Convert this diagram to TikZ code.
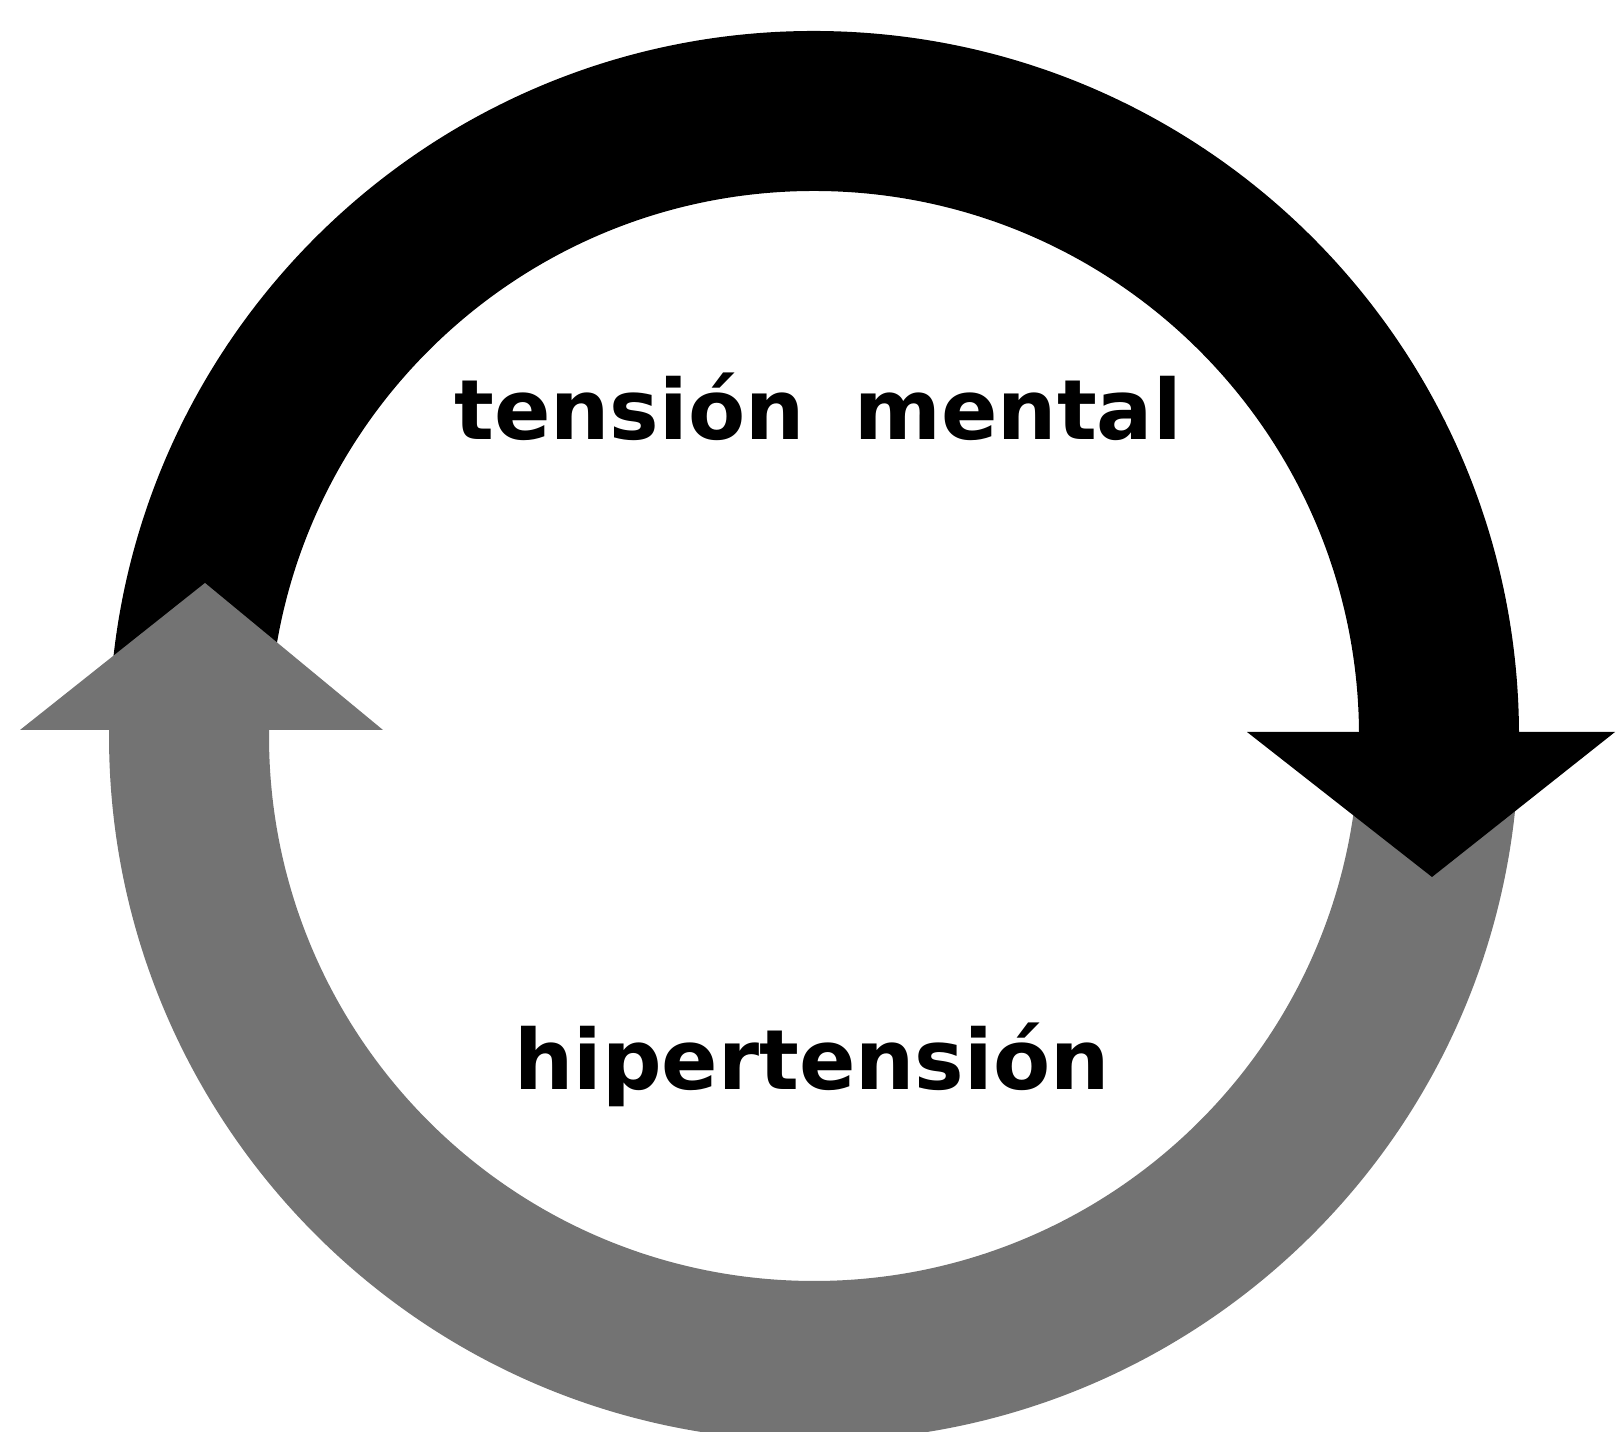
\documentclass[tikz,border=0pt]{standalone}
\usepackage{fontspec}
\setmainfont{DejaVu Sans}
\usetikzlibrary{calc}

\begin{document}
\begin{tikzpicture}[x=0.02cm,y=0.02cm]

	\tikzset{
		blackband/.style={fill=black, draw=none},
		grayband/.style={fill=black!55, draw=none},
		cyclelabel/.style={anchor=base, inner sep=0pt, font=\fontsize{47.4}{56}\selectfont\bfseries},
	}
	\useasboundingbox (0,0) rectangle (1618,1432);
	\clip (0,0) rectangle (1618,1432);

	\coordinate (c) at (814,696);

	% upper band, black
	\fill[blackband] ($(c)+(178:705)$) arc[start angle=178, end angle=0, radius=705]
		-- ($(c)+(0:545)$) arc[start angle=0, end angle=178, radius=545] -- cycle;

	% lower band, halftone gray
	\fill[grayband] ($(c)+(-3:705)$) arc[start angle=-3, end angle=-181.5, radius=705]
		-- ($(c)+(178.5:545)$) arc[start angle=178.5, end angle=357, radius=545] -- cycle;

	% arrowheads
	\coordinate (tipl) at (205,849);
	\coordinate (tipr) at (1432,555);
	\fill[grayband] (20,702) -- (383,702) -- (tipl) -- cycle;
	\fill[blackband] (1247,700) -- (1615,700) -- (tipr) -- cycle;

	\node[cyclelabel] (tension) at (818,992) {tensión\hspace{0.6em}mental};
	\node[cyclelabel] (hiper) at (812,342) {hipertensión};

\end{tikzpicture}
\end{document}
